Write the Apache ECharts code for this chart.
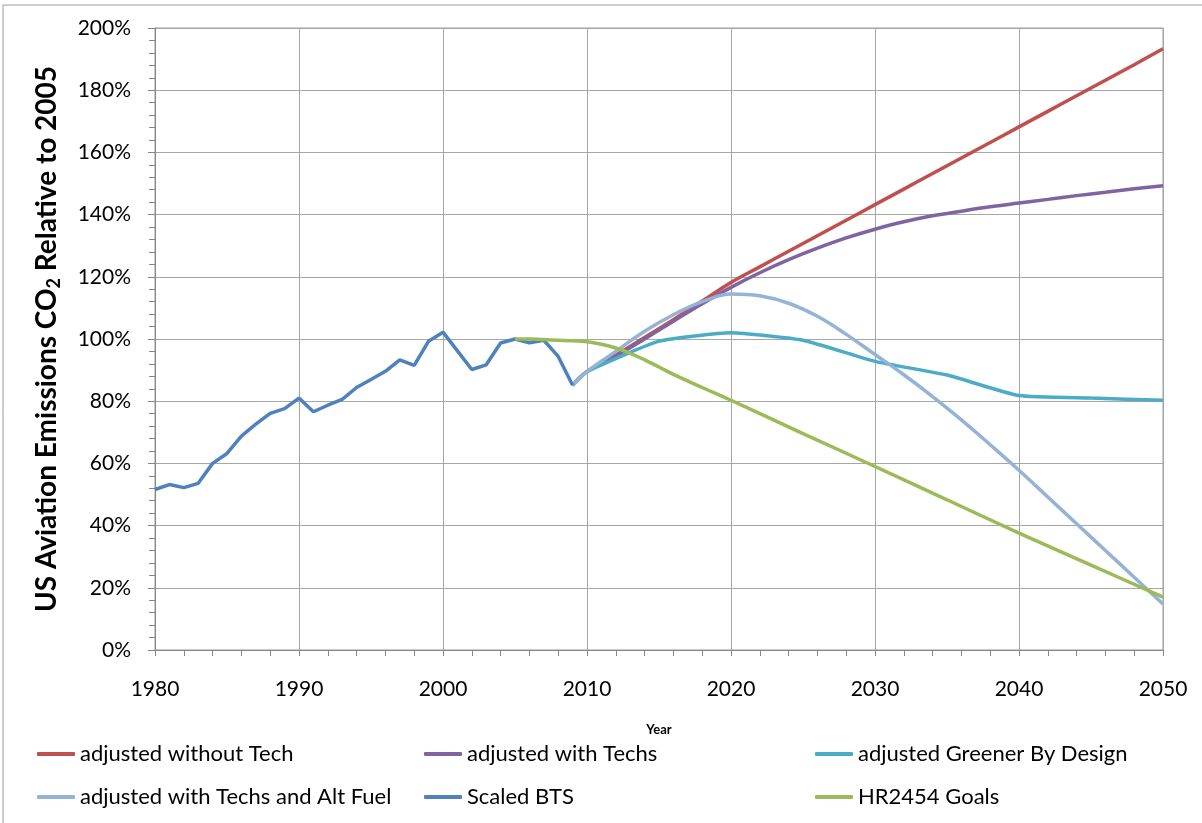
<!DOCTYPE html>
<html>
<head>
<meta charset="utf-8">
<script src="https://cdn.jsdelivr.net/npm/echarts@6/dist/echarts.min.js"></script>
<style>
html,body{margin:0;padding:0;background:#fff;}
#c{width:1202px;height:823px;}
</style>
</head>
<body>
<div id="c"></div>
<script>
// ---- data ----
const btsYears = [1980,1981,1982,1983,1984,1985,1986,1987,1988,1989,1990,1991,1992,1993,1994,1995,1996,1997,1998,1999,2000,2001,2002,2003,2004,2005,2006,2007,2008,2009];
const btsValues = [51.6,53.2,52.2,53.6,60.0,63.2,68.8,72.6,76.1,77.6,81.0,76.6,78.7,80.6,84.4,87.0,89.6,93.3,91.5,99.3,102.2,96.2,90.2,91.7,98.7,100.0,98.8,99.6,94.4,85.1];

const projYears = [2009,2010,2012,2014,2016,2018,2020,2022,2024,2026,2028,2030,2032,2034,2036,2038,2040,2042,2044,2046,2048,2050];
const noTechValues = [85.1,89.5,94.8,100.5,106.2,112.2,118.2,123.2,128.2,133.2,138.2,143.2,148.2,153.2,158.2,163.2,168.2,173.2,178.2,183.2,188.2,193.3];
const withTechValues = [85.1,89.5,94.5,100.0,105.7,111.3,116.6,121.3,125.5,129.2,132.5,135.3,137.7,139.6,141.1,142.5,143.7,144.9,146.1,147.2,148.3,149.3];
const altFuelValues = [85.1,89.5,96.0,102.5,107.8,112.0,114.5,113.9,111.5,107.3,101.5,95.0,88.5,81.5,74.0,66.0,57.8,49.2,40.6,32.0,23.4,14.8];

const gbdYears = [2009,2010,2015,2020,2025,2030,2035,2040,2045,2050];
const gbdValues = [85.1,89.5,99.3,102.0,99.6,92.8,88.4,81.8,81.0,80.3];

const goalYears = [2005,2006,2007,2008,2009,2010,2011,2012,2013,2014,2015,2016,2018,2020,2025,2030,2035,2040,2045,2050];
const goalValues = [100.0,100.0,99.8,99.6,99.4,99.1,98.3,97.1,95.4,93.3,91.0,88.6,84.4,80.3,69.6,59.0,48.3,37.6,27.3,17.0];

const seriesNames = ['adjusted without Tech','adjusted with Techs','adjusted Greener By Design','adjusted with Techs and Alt Fuel','Scaled BTS','HR2454 Goals'];
const seriesColors = ['#C0504D','#8064A2','#4BACC6','#95B3D7','#4F81BD','#9BBB59'];

const xTicks = [1980,2050,10];
const yTicks = [0,200,20];

function pairs(xs, ys){ return xs.map((x,i)=>[x, ys[i]]); }

const FONT = 'Lato, "Open Sans", sans-serif';

function line(idx, data, smooth){
  return {
    name: seriesNames[idx], type:'line', data: data, symbol:'none', smooth: smooth,
    lineStyle:{color: seriesColors[idx], width:3.5},
    itemStyle:{color: seriesColors[idx]},
    emphasis:{disabled:true}, z: 2+idx
  };
}

const chart = echarts.init(document.getElementById('c'), null, {renderer:'canvas'});
const legendCommon = {
  orient:'vertical', top:743, padding:0, itemWidth:38, itemHeight:4, itemGap:21, icon:'roundRect',
  textStyle:{fontFamily:FONT, fontSize:22, color:'#000', lineHeight:22},
  selectedMode:false
};
chart.setOption({
  animation:false,
  backgroundColor:'#fff',
  graphic:[{type:'rect', shape:{x:3, y:5, width:1300, height:900}, style:{fill:'none', stroke:'#9a9a9a', lineWidth:1}, silent:true}],
  grid:{left:155, right:39, top:28, bottom:173, show:true, borderColor:'#9a9a9a', borderWidth:1},
  legend:[
    Object.assign({left:37, data:[seriesNames[0], seriesNames[3]]}, legendCommon),
    Object.assign({left:424, data:[seriesNames[1], seriesNames[4]]}, legendCommon),
    Object.assign({left:815, data:[seriesNames[2], seriesNames[5]]}, legendCommon)
  ],
  xAxis:{
    type:'value', min:xTicks[0], max:xTicks[1], interval:xTicks[2],
    name:'Year', nameLocation:'middle', nameGap:73,
    nameTextStyle:{fontFamily:FONT, fontWeight:'bold', fontSize:13, color:'#000', verticalAlign:'top'},
    axisLine:{show:true, lineStyle:{color:'#868686', width:1}},
    axisTick:{show:true, length:6, inside:false, lineStyle:{color:'#868686'}},
    minorTick:{show:true, splitNumber:5, length:6, lineStyle:{color:'#868686'}},
    splitLine:{show:true, lineStyle:{color:'#a6a6a6', width:1}},
    axisLabel:{fontFamily:FONT, fontSize:21, color:'#000', margin:29, formatter:v=>String(v)}
  },
  yAxis:{
    type:'value', min:yTicks[0], max:yTicks[1], interval:yTicks[2],
    name:'US Aviation Emissions CO{sub|2} Relative to 2005', nameLocation:'middle', nameGap:92,
    nameTextStyle:{fontFamily:FONT, fontWeight:'bold', fontSize:28, color:'#000',
      rich:{sub:{fontFamily:FONT, fontWeight:'bold', fontSize:18, color:'#000', verticalAlign:'bottom', padding:[14,0,0,0]}}},
    axisLine:{show:true, lineStyle:{color:'#868686', width:1}},
    axisTick:{show:true, length:7, lineStyle:{color:'#868686'}},
    minorTick:{show:true, splitNumber:5, length:6, lineStyle:{color:'#868686'}},
    splitLine:{show:true, lineStyle:{color:'#a6a6a6', width:1}},
    axisLabel:{fontFamily:FONT, fontSize:21, color:'#000', margin:24, formatter:'{value}%'}
  },
  series:[
    line(0, pairs(projYears, noTechValues), 0.4),
    line(1, pairs(projYears, withTechValues), 0.4),
    line(2, pairs(gbdYears, gbdValues), 0.15),
    line(3, pairs(projYears, altFuelValues), 0.4),
    line(4, pairs(btsYears, btsValues), false),
    line(5, pairs(goalYears, goalValues), 0.4)
  ]
});
</script>
</body>
</html>
